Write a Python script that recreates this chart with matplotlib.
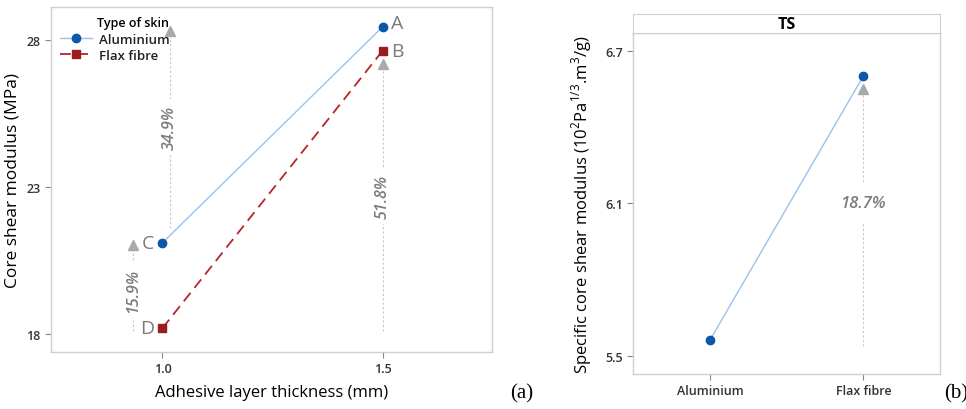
import matplotlib
matplotlib.use("Agg")
import matplotlib.pyplot as plt

plt.rcParams['font.family'] = ['Open Sans', 'DejaVu Sans']
plt.rcParams['mathtext.fontset'] = 'custom'
plt.rcParams['mathtext.rm'] = 'Open Sans'

# ---- data panel (a)
thickness = [1.0, 1.5]
aluminium = [21.10, 28.44]
flax = [18.20, 27.63]
point_labels = ["C", "A", "D", "B"]
# arrows
arrow_x = [1.016, 1.5, 0.933]
arrow_base = [21.6, 18.1, 18.1]
arrow_tip = [28.31, 27.17, 21.03]
arrow_text = ["34.9%", "51.8%", "15.9%"]
arrow_text_y = [25.03, 22.68, 19.50]
yticks_a = [18, 23, 28]
xticks_a = [1.0, 1.5]

# ---- data panel (b)
skin = ["Aluminium", "Flax fibre"]
specific = [5.564, 6.60]
arrow_b_base = 5.54
arrow_b_tip = 6.55
arrow_b_text = "18.7%"
arrow_b_text_y = 6.10
yticks_b = [5.5, 6.1, 6.7]

BLUE = '#0b57a8'
LBLUE = '#9cc2e8'
RED = '#9b1c1c'
LRED = '#b5262a'
GRAY = '#a9a9a9'
TXTGRAY = '#7c7c7c'
SPINE = '#cfcfcf'

fig = plt.figure(figsize=(9.66, 4.10), dpi=100)

def style_axes(ax):
    for s in ax.spines.values():
        s.set_color(SPINE)
        s.set_linewidth(1.0)
    ax.tick_params(axis='both', colors='#888888', labelcolor='#333333', labelsize=9, length=4, width=0.8)

# ---------- panel (a)
ax1 = fig.add_axes([0.0528, 0.139, 0.4565, 0.8415])
style_axes(ax1)
ax1.set_xlim(0.747, 1.748)
ax1.set_ylim(17.39, 29.11)
ax1.set_xticks(xticks_a)
ax1.set_xticklabels([f"{v:.1f}" for v in xticks_a])
ax1.set_yticks(yticks_a)

for xa, yb, yt, lab, ty in zip(arrow_x, arrow_base, arrow_tip, arrow_text, arrow_text_y):
    ax1.plot([xa, xa], [yb, yt], color='#c8c8c8', lw=0.8, ls=(0, (2, 2)), zorder=1)
    ax1.plot([xa], [yt], marker='^', ms=7, color=GRAY, zorder=2, ls='none')
    ax1.text(xa, ty, lab, rotation=90, ha='center', va='center', fontsize=11.5, style='italic',
             fontweight='semibold', color=TXTGRAY,
             bbox=dict(facecolor='white', edgecolor='none', pad=4), zorder=3)

ax1.plot(thickness, aluminium, color=LBLUE, lw=1.0, marker='o', ms=6, mfc=BLUE, mec=BLUE,
         label='Aluminium', zorder=4)
ax1.plot(thickness, flax, color=LRED, lw=1.3, ls=(0, (6, 3.5)), marker='s', ms=6, mfc=RED, mec=RED,
         label='Flax fibre', zorder=4)

pts = [(thickness[0], aluminium[0]), (thickness[1], aluminium[1]),
       (thickness[0], flax[0]), (thickness[1], flax[1])]
for (px, py), lab in zip(pts, point_labels):
    if px < 1.25:
        ax1.annotate(lab, (px, py), xytext=(-6, 0), textcoords='offset points', ha='right', va='center',
                     fontsize=14, color='#7a7a7a')
    else:
        ax1.annotate(lab, (px, py), xytext=(6, 3 if lab == 'A' else 0), textcoords='offset points',
                     ha='left', va='center', fontsize=14, color='#7a7a7a')

leg = ax1.legend(loc='upper left', frameon=False, fontsize=9.5, title='Type of skin',
                 title_fontsize=9, handlelength=2.4, borderaxespad=0.3, labelspacing=0.25,
                 handletextpad=0.5, bbox_to_anchor=(0.0, 1.0))
leg.get_title().set_fontweight('semibold')
leg._legend_box.align = 'right'
for t in leg.get_texts():
    t.set_fontweight('semibold')
    t.set_color('#222222')

ax1.set_xlabel('Adhesive layer thickness (mm)', fontsize=12, labelpad=6)
ax1.set_ylabel('Core shear modulus (MPa)', fontsize=12.5, labelpad=4)
fig.text(0.528, 0.04, '(a)', fontsize=15, family='Liberation Serif', ha='left', va='center')

# ---------- panel (b)
ax2 = fig.add_axes([0.6556, 0.0854, 0.3175, 0.8317])
style_axes(ax2)
ax2.set_xlim(-0.5, 1.5)
ax2.set_ylim(5.431, 6.769)
ax2.set_xticks(range(len(skin)))
ax2.set_xticklabels(skin, fontweight='semibold')
ax2.set_yticks(yticks_b)
ax2.set_yticklabels([f"{v:.1f}" for v in yticks_b], fontweight='semibold')
for t in ax1.get_xticklabels() + ax1.get_yticklabels():
    t.set_fontweight('semibold')

ax2.plot([1, 1], [arrow_b_base, arrow_b_tip], color='#c8c8c8', lw=0.8, ls=(0, (2, 2)), zorder=1)
ax2.plot([1], [arrow_b_tip], marker='^', ms=7, color=GRAY, ls='none', zorder=2)
ax2.text(1, arrow_b_text_y, arrow_b_text, ha='center', va='center', fontsize=12, style='italic',
         fontweight='semibold', color=TXTGRAY,
         bbox=dict(facecolor='white', edgecolor='none', pad=8), zorder=3)
ax2.plot(range(len(skin)), specific, color=LBLUE, lw=1.0, marker='o', ms=6, mfc=BLUE, mec=BLUE, zorder=4)
ax2.set_ylabel('Specific core shear modulus (10$^{2}$Pa$^{1/3}$.m$^{3}$/g)', fontsize=12, labelpad=8)

strip = fig.add_axes([0.6556, 0.917, 0.3175, 0.0463])
strip.set_xticks([]); strip.set_yticks([])
for s in strip.spines.values():
    s.set_color(SPINE)
strip.text(0.5, 0.5, 'TS', ha='center', va='center', fontsize=11.5, fontweight='bold', transform=strip.transAxes)
fig.text(0.977, 0.04, '(b)', fontsize=15, family='Liberation Serif', ha='left', va='center')

fig.savefig('out.png', dpi=100)
